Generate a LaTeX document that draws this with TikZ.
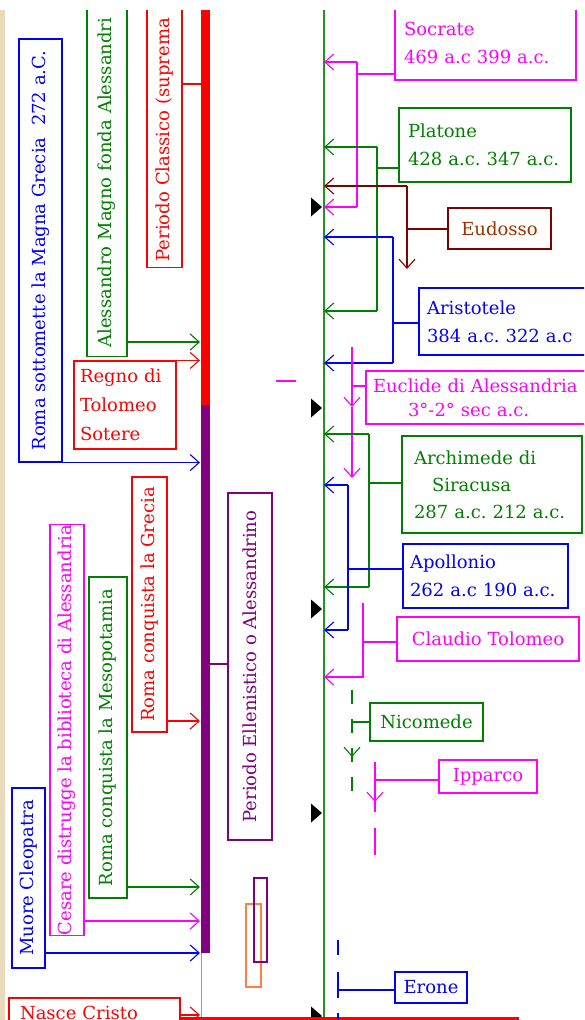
\documentclass[tikz,border=0pt]{standalone}
\usepackage{fontspec}
\setmainfont{DejaVu Serif}
\usetikzlibrary{arrows.meta}
\definecolor{mgn}{RGB}{255,0,255}
\definecolor{blu}{RGB}{0,0,255}
\definecolor{rd}{RGB}{255,0,0}
\definecolor{grn}{RGB}{0,128,0}
\definecolor{prp}{RGB}{128,0,128}
\definecolor{brn}{RGB}{128,0,0}
\definecolor{brntxt}{RGB}{153,51,0}
\definecolor{org}{RGB}{255,128,64}
\definecolor{parch}{RGB}{232,218,186}
\definecolor{timegreen}{RGB}{30,150,30}
\tikzset{
  evt/.style={draw, line width=1.1pt, inner sep=0pt, font=\fontsize{18}{28}\selectfont},
  vevt/.style={evt, rotate=90},
  link/.style={line width=1.1pt},
  arr/.style={link, -{Straight Barb[length=9pt,width=16pt]}},
}
\begin{document}
\frenchspacing
\begin{tikzpicture}[x=1pt,y=-1pt]
  \useasboundingbox (0,0) rectangle (584,1020);
  \fill[white] (0,0) rectangle (584,1020);
  \clip (0,10) rectangle (584,1020);
  \fill[parch] (0,10) rectangle (5,1020);

  \fill[rd] (201,10) rectangle (210,405);
  \fill[prp] (201,405) rectangle (210,953);
  \draw[gray!80, line width=1pt] (201.5,953) -- (201.5,1020);
  \coordinate (mtop) at (324,10);
  \coordinate (mbot) at (324,1020);
  \draw[timegreen, line width=2pt] (mtop) -- (mbot);
  \foreach \y in {207,408,609,813,1016}
    \fill (311,\y) ++(0,-9.5) -- ++(11,9.5) -- ++(-11,9.5) -- cycle;

  \node[vevt, rd, anchor=west, text width=300pt, align=left, inner xsep=6pt, minimum height=35pt] (classico) at (164.5,268) {Periodo Classico (suprema};
  \node[vevt, grn, anchor=west, text width=400pt, align=left, inner xsep=9pt, minimum height=40pt] (alessandro) at (107,357) {Alessandro Magno fonda Alessandri};
  \node[vevt, blu, minimum width=423pt, minimum height=43pt] (sottomette) at (40.5,250.5) {Roma sottomette la Magna Grecia\ \ 272 a.C.};
  \node[evt, rd, minimum height=88pt, text width=90pt, inner xsep=6pt, align=left, font=\fontsize{18}{29}\selectfont] (regno) at (125,405) {Regno di\\Tolomeo\\Sotere};
  \node[vevt, rd, minimum width=255pt, minimum height=35pt] (grecia) at (149.5,604.5) {Roma conquista la Grecia};
  \node[vevt, grn, minimum width=321pt, minimum height=38pt] (mesopotamia) at (108,737.5) {Roma conquista la Mesopotamia};
  \node[vevt, mgn, minimum width=404pt, minimum height=34pt] (cesare) at (67,730) {Cesare distrugge la biblioteca di Alessandria};
  \node[vevt, blu, minimum width=180pt, minimum height=33pt] (cleopatra) at (28.5,878) {Muore Cleopatra};
  \node[vevt, prp, minimum width=347pt, minimum height=44pt] (ellenistico) at (250,666.5) {Periodo Ellenistico o Alessandrino};
  \node[evt, rd, minimum height=29pt, text width=149pt, inner xsep=11pt, align=left] (nasce) at (94.5,1012.5) {Nasce Cristo};
  \draw[org, line width=1.1pt] (246,904) rectangle (261,987);
  \draw[prp, line width=1.1pt] (254,878) rectangle (267,962);

  \coordinate (lClassico) at (201,84);
  \draw[rd, link] (classico.south |- lClassico) -- (lClassico);
  \coordinate (lAless) at (200,342);
  \draw[grn, arr] (alessandro.south |- lAless) -- (lAless);
  \coordinate (lRegno) at (200,361);
  \draw[rd, arr] (regno.north east) -- (regno.north east -| lRegno);
  \coordinate (lMagna) at (200,462);
  \draw[blu, arr] (sottomette.south west) -- (sottomette.south west -| lMagna);
  \coordinate (lEll) at (210,664);
  \draw[prp, link] (lEll) -- (lEll -| ellenistico.north);
  \coordinate (lGrecia) at (200,721);
  \draw[rd, arr] (grecia.south |- lGrecia) -- (lGrecia);
  \coordinate (lMeso) at (200,887);
  \draw[grn, arr] (mesopotamia.south |- lMeso) -- (lMeso);
  \coordinate (lCesare) at (200,921);
  \draw[mgn, arr] (cesare.south |- lCesare) -- (lCesare);
  \coordinate (lCleo) at (200,953);
  \draw[blu, arr] (cleopatra.south |- lCleo) -- (lCleo);
  \coordinate (lNasce) at (200,1015);
  \draw[rd, arr] (nasce.east |- lNasce) -- (lNasce);
  \coordinate (lRed) at (519,1018.5);
  \draw[rd, line width=3pt] (nasce.east |- lRed) -- (lRed);

  \node[evt, mgn, minimum height=74pt, text width=163pt, inner xsep=9pt, align=left] (socrate) at (485.5,43) {Socrate\\469 a.c 399 a.c.};
  \node[evt, grn, minimum height=74pt, text width=154pt, inner xsep=9pt, align=left] (platone) at (485,145) {Platone\\428 a.c. 347 a.c.};
  \node[evt, brn, text=brntxt, minimum width=103pt, minimum height=41pt] (eudosso) at (499.5,228.5) {Eudosso};
  \node[evt, blu, minimum height=67pt, text width=165pt, inner xsep=8pt, align=left] (aristotele) at (509.5,321.5) {Aristotele\\384 a.c. 322 a.c};
  \node[evt, mgn, minimum height=53pt, text width=220pt, inner xsep=7pt, align=left, font=\fontsize{18}{24}\selectfont] (euclide) at (483,397.5) {Euclide di Alessandria\\\hspace*{35pt}3°-2° sec a.c.};
  \node[evt, grn, minimum height=97pt, text width=156pt, inner xsep=12pt, align=left, font=\fontsize{18}{27}\selectfont] (archimede) at (492,484.5) {Archimede di\\\hspace*{18pt}Siracusa\\287 a.c. 212 a.c.};
  \node[evt, blu, minimum height=64pt, text width=151pt, inner xsep=7pt, align=left] (apollonio) at (485.5,576) {Apollonio\\262 a.c 190 a.c.};
  \node[evt, mgn, minimum width=182pt, minimum height=44pt] (claudio) at (488,639) {Claudio Tolomeo};
  \node[evt, grn, minimum width=113pt, minimum height=38pt] (nicomede) at (426.5,722) {Nicomede};
  \node[evt, mgn, minimum width=98pt, minimum height=33pt] (ipparco) at (488,776.5) {Ipparco};
  \node[evt, blu, minimum width=72pt, minimum height=31pt] (erone) at (431,987.5) {Erone};

  \coordinate (sA) at (357,62); \coordinate (sB) at (357,207); \coordinate (sC) at (357,74);
  \draw[mgn, link] (socrate.west |- sC) -- (sC);
  \draw[mgn, link] (sA) -- (sB);
  \draw[mgn, arr] (sA) -- (sA -| mtop);
  \draw[mgn, arr] (sB) -- (sB -| mtop);

  \coordinate (pA) at (377,147); \coordinate (pB) at (377,311); \coordinate (pC) at (377,168);
  \draw[grn, link] (platone.west |- pC) -- (pC);
  \draw[grn, link] (pA) -- (pB);
  \draw[grn, arr] (pA) -- (pA -| mtop);
  \draw[grn, arr] (pB) -- (pB -| mtop);

  \coordinate (eA) at (407,186); \coordinate (eB) at (407,269); \coordinate (eC) at (407,229);
  \draw[brn, link] (eudosso.west |- eC) -- (eC);
  \draw[brn, arr] (eA) -- (eB);
  \draw[brn, arr] (eA) -- (eA -| mtop);

  \coordinate (aA) at (393,237); \coordinate (aB) at (393,363); \coordinate (aC) at (393,323);
  \draw[blu, link] (aristotele.west |- aC) -- (aC);
  \draw[blu, link] (aA) -- (aB);
  \draw[blu, arr] (aA) -- (aA -| mtop);
  \draw[blu, arr] (aB) -- (aB -| mtop);

  \coordinate (uA) at (352,347); \coordinate (uM) at (352,407); \coordinate (uB) at (352,478); \coordinate (uC) at (352,386);
  \draw[mgn, link] (euclide.west |- uC) -- (uC);
  \draw[mgn, arr] (uA) -- (uM);
  \draw[mgn, arr] (uM) -- (uB);
  \draw[mgn, link] (276,381) -- (296,381);

  \coordinate (hA) at (369,434); \coordinate (hB) at (369,587); \coordinate (hC) at (369,483);
  \draw[grn, link] (archimede.west |- hC) -- (hC);
  \draw[grn, link] (hA) -- (hB);
  \draw[grn, arr] (hA) -- (hA -| mtop);
  \draw[grn, arr] (hB) -- (hB -| mtop);

  \coordinate (oA) at (348,485); \coordinate (oB) at (348,630); \coordinate (oC) at (348,569);
  \draw[blu, link] (apollonio.west |- oC) -- (oC);
  \draw[blu, link] (oA) -- (oB);
  \draw[blu, arr] (oA) -- (oA -| mtop);
  \draw[blu, arr] (oB) -- (oB -| mtop);

  \coordinate (cA) at (363,603); \coordinate (cB) at (363,677); \coordinate (cC) at (363,642);
  \draw[mgn, link] (claudio.west |- cC) -- (cC);
  \draw[mgn, arr] (cA) -- (cB) -- (cB -| mtop);

  \coordinate (nA) at (352,690); \coordinate (nB) at (352,792); \coordinate (nM) at (352,757);
  \draw[grn, link] (nicomede.west) -- (nicomede.west -| nA);
  \draw[grn, link, dash pattern=on 14pt off 15pt] (nA) -- (nB);
  \draw[grn, arr] (352,748) -- (nM);

  \coordinate (iA) at (375,762); \coordinate (iB) at (375,812); \coordinate (iM) at (375,802); \coordinate (iC) at (375,780);
  \draw[mgn, link] (ipparco.west |- iC) -- (iC);
  \draw[mgn, link] (iA) -- (iB);
  \draw[mgn, arr] (iA) -- (iM);
  \draw[mgn, link] (375,828) -- (375,855);

  \coordinate (rA) at (338,972); \coordinate (rB) at (338,998); \coordinate (rC) at (338,990);
  \draw[blu, link] (erone.west |- rC) -- (rC);
  \draw[blu, link] (rA) -- (rB);
  \draw[blu, link] (338,940) -- (338,955);
  \draw[blu, link] (338,1013) -- (338,1020);
\end{tikzpicture}
\end{document}
